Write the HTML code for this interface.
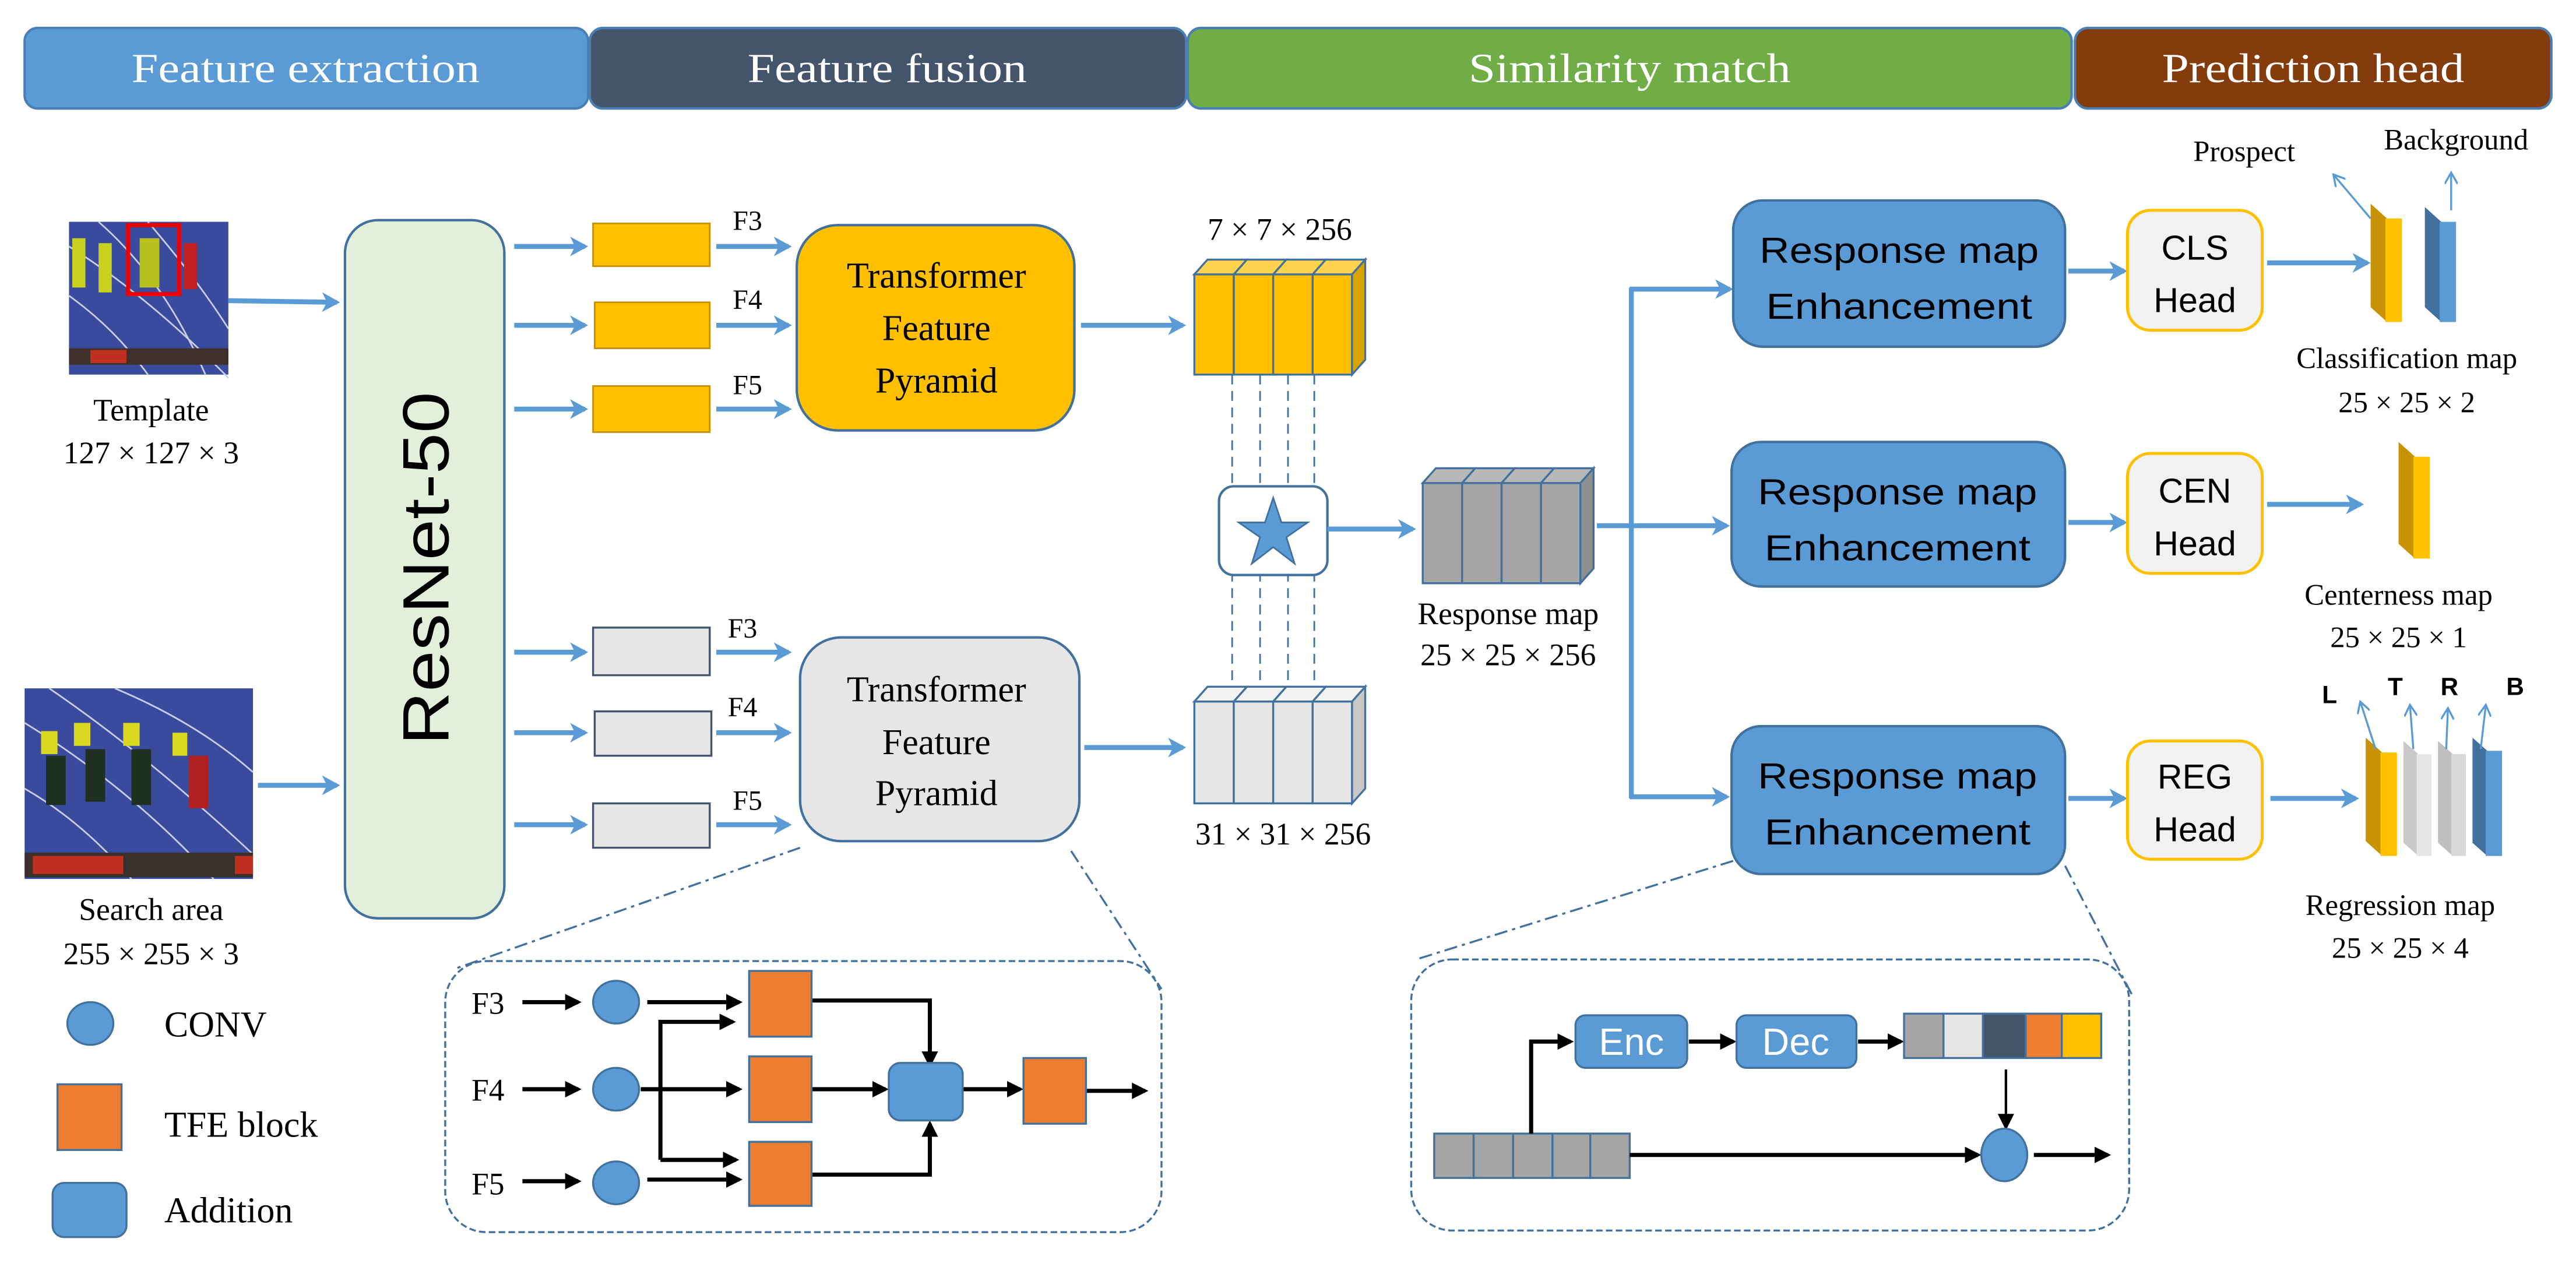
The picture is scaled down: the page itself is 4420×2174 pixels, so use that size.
<!DOCTYPE html>
<html><head><meta charset="utf-8"><style>
html,body{margin:0;padding:0;background:#fff;}
svg{display:block}
.sf{font-family:"Liberation Serif",serif;}
.ss{font-family:"Liberation Sans",sans-serif;}
</style></head><body>
<svg width="4420" height="2174" viewBox="0 0 1568 771.2" xmlns="http://www.w3.org/2000/svg">
<defs>
<marker id="ab" markerWidth="12" markerHeight="12" refX="9" refY="6" orient="auto" markerUnits="userSpaceOnUse"><path d="M0,0 L11,6 L0,12 L3,6 z" fill="#5b9bd5"/></marker>
<marker id="abs" markerWidth="8" markerHeight="8" refX="6" refY="4" orient="auto" markerUnits="userSpaceOnUse"><path d="M0,0 L7,4 L0,8" fill="none" stroke="#5b9bd5" stroke-width="1.2"/></marker>
<marker id="ak" markerWidth="10" markerHeight="10" refX="8" refY="5" orient="auto" markerUnits="userSpaceOnUse"><path d="M0,0 L10,5 L0,10 z" fill="#000"/></marker>
</defs>

<!-- headers -->
<g class="sf" font-size="25" fill="#fff" text-anchor="middle">
<rect x="15" y="17" width="343" height="49" rx="8" fill="#5b9bd5" stroke="#4a7fb5" stroke-width="1.5"/>
<rect x="359" y="17" width="363" height="49" rx="8" fill="#44546a" stroke="#4a7fb5" stroke-width="1.5"/>
<rect x="723" y="17" width="538" height="49" rx="8" fill="#70ad47" stroke="#4a7fb5" stroke-width="1.5"/>
<rect x="1263" y="17" width="290" height="49" rx="8" fill="#843c0c" stroke="#4a7fb5" stroke-width="1.5"/>
<text x="186" y="50" textLength="212" lengthAdjust="spacingAndGlyphs">Feature extraction</text>
<text x="540" y="50" textLength="170" lengthAdjust="spacingAndGlyphs">Feature fusion</text>
<text x="992" y="50" textLength="196" lengthAdjust="spacingAndGlyphs">Similarity match</text>
<text x="1408" y="50" textLength="184" lengthAdjust="spacingAndGlyphs">Prediction head</text>
</g>

<!-- template image -->
<rect x="42" y="135" width="97" height="93" fill="#3a4a9c"/>
<g fill="none" stroke="#c8cde8" stroke-width="1">
<path d="M42,150 Q90,180 139,230"/><path d="M60,135 Q100,170 125,228"/><path d="M90,135 Q120,170 139,200"/><path d="M42,180 Q70,200 90,228"/>
</g>
<rect x="44" y="145" width="8" height="30" fill="#c8d020"/><rect x="60" y="148" width="8" height="30" fill="#c8d020"/>
<rect x="85" y="145" width="12" height="30" fill="#b8c020"/><rect x="112" y="148" width="8" height="28" fill="#c02020"/>
<rect x="42" y="212" width="97" height="10" fill="#40302a"/><rect x="55" y="213" width="22" height="8" fill="#c03020"/>
<rect x="78" y="137" width="31" height="42" fill="none" stroke="#e00" stroke-width="2.5"/>
<g class="sf" font-size="19" text-anchor="middle">
<text x="92" y="256">Template</text>
<text x="92" y="282">127 × 127 × 3</text>
</g>
<line x1="139" y1="183" x2="205" y2="184" stroke="#5b9bd5" stroke-width="3" marker-end="url(#ab)"/>

<!-- search image -->
<rect x="15" y="419" width="139" height="116" fill="#3a4a9c"/>
<g fill="none" stroke="#c8cde8" stroke-width="1">
<path d="M15,440 Q80,480 130,535"/><path d="M30,419 Q90,460 154,520"/><path d="M15,480 Q50,500 80,535"/><path d="M70,419 Q120,440 154,470"/>
</g>
<g fill="#d8d820"><rect x="25" y="445" width="10" height="14"/><rect x="45" y="440" width="10" height="14"/><rect x="75" y="440" width="10" height="14"/><rect x="105" y="446" width="9" height="14"/></g>
<g fill="#203020"><rect x="28" y="460" width="12" height="30"/><rect x="52" y="456" width="12" height="32"/><rect x="80" y="456" width="12" height="34"/><rect x="115" y="460" width="12" height="32" fill="#b02020"/></g>
<rect x="15" y="519" width="139" height="15" fill="#3a302a"/><rect x="20" y="521" width="55" height="11" fill="#c03020"/><rect x="143" y="521" width="11" height="11" fill="#c03020"/>
<g class="sf" font-size="19" text-anchor="middle">
<text x="92" y="560">Search area</text>
<text x="92" y="587">255 × 255 × 3</text>
</g>
<line x1="157" y1="478" x2="205" y2="478" stroke="#5b9bd5" stroke-width="3" marker-end="url(#ab)"/>

<!-- ResNet -->
<rect x="210" y="134" width="97" height="425" rx="20" fill="#e2efda" stroke="#41719c" stroke-width="1.5"/>
<text class="ss" x="0" y="0" font-size="40" text-anchor="middle" transform="translate(273,346) rotate(-90)" textLength="215" lengthAdjust="spacingAndGlyphs">ResNet-50</text>

<!-- top feature rects -->
<g stroke="#5b9bd5" stroke-width="3" marker-end="url(#ab)">
<line x1="313" y1="150" x2="356" y2="150"/><line x1="313" y1="198" x2="356" y2="198"/><line x1="313" y1="249" x2="356" y2="249"/>
<line x1="436" y1="150" x2="480" y2="150"/><line x1="436" y1="198" x2="480" y2="198"/><line x1="436" y1="249" x2="480" y2="249"/>
<line x1="313" y1="397" x2="356" y2="397"/><line x1="313" y1="446" x2="356" y2="446"/><line x1="313" y1="502" x2="356" y2="502"/>
<line x1="436" y1="397" x2="480" y2="397"/><line x1="436" y1="446" x2="480" y2="446"/><line x1="436" y1="502" x2="480" y2="502"/>
<line x1="658" y1="198" x2="720" y2="198"/><line x1="660" y1="455" x2="720" y2="455"/>
</g>
<g fill="#ffc000" stroke="#c89000" stroke-width="1">
<rect x="361" y="136" width="71" height="26"/><rect x="362" y="184" width="70" height="28"/><rect x="361" y="235" width="71" height="28"/>
</g>
<g fill="#e7e6e6" stroke="#44546a" stroke-width="1.2">
<rect x="361" y="382" width="71" height="29"/><rect x="362" y="433" width="71" height="27"/><rect x="361" y="489" width="71" height="27"/>
</g>
<g class="sf" font-size="17">
<text x="446" y="140">F3</text><text x="446" y="188">F4</text><text x="446" y="240">F5</text>
<text x="443" y="388">F3</text><text x="443" y="436">F4</text><text x="446" y="493">F5</text>
</g>

<!-- TFP boxes -->
<rect x="485" y="137" width="169" height="125" rx="25" fill="#ffc000" stroke="#41719c" stroke-width="1.5"/>
<rect x="487" y="388" width="170" height="124" rx="25" fill="#e7e6e6" stroke="#41719c" stroke-width="1.5"/>
<g class="sf" font-size="22" text-anchor="middle">
<text x="570" y="175">Transformer</text><text x="570" y="207">Feature</text><text x="570" y="239">Pyramid</text>
<text x="570" y="427">Transformer</text><text x="570" y="459">Feature</text><text x="570" y="490">Pyramid</text>
</g>

<!-- yellow cube -->
<g stroke="#41719c" stroke-width="1.2" fill="#ffc000">
<rect x="727" y="167" width="24" height="61"/><rect x="751" y="167" width="24" height="61"/><rect x="775" y="167" width="24" height="61"/><rect x="799" y="167" width="24" height="61"/>
<polygon points="727,167 735,158 759,158 751,167" fill="#ffd34d"/><polygon points="751,167 759,158 783,158 775,167" fill="#ffd34d"/><polygon points="775,167 783,158 807,158 799,167" fill="#ffd34d"/><polygon points="799,167 807,158 831,158 823,167" fill="#ffd34d"/>
<polygon points="823,167 831,158 831,219 823,228" fill="#d9a400"/>
</g>
<text class="sf" x="779" y="146" font-size="19" text-anchor="middle">7 × 7 × 256</text>

<!-- dashed lines -->
<g stroke="#41719c" stroke-width="1" stroke-dasharray="6,4">
<line x1="750" y1="228" x2="750" y2="420"/><line x1="767" y1="228" x2="767" y2="420"/><line x1="784" y1="228" x2="784" y2="420"/><line x1="800" y1="228" x2="800" y2="420"/>
</g>
<!-- star box -->
<rect x="742" y="296" width="66" height="54" rx="9" fill="#fff" stroke="#41719c" stroke-width="1.5"/>
<polygon points="775,303 780,318 796,318 783,327 788,343 775,333 762,343 767,327 754,318 770,318" fill="#5b9bd5" stroke="#41719c" stroke-width="1"/>

<!-- bottom gray cube -->
<g stroke="#41719c" stroke-width="1.2" fill="#e7e6e6">
<rect x="727" y="427" width="24" height="62"/><rect x="751" y="427" width="24" height="62"/><rect x="775" y="427" width="24" height="62"/><rect x="799" y="427" width="24" height="62"/>
<polygon points="727,427 735,418 759,418 751,427" fill="#f2f2f2"/><polygon points="751,427 759,418 783,418 775,427" fill="#f2f2f2"/><polygon points="775,427 783,418 807,418 799,427" fill="#f2f2f2"/><polygon points="799,427 807,418 831,418 823,427" fill="#f2f2f2"/>
<polygon points="823,427 831,418 831,480 823,489" fill="#c8c8c8"/>
</g>
<text class="sf" x="781" y="514" font-size="19" text-anchor="middle">31 × 31 × 256</text>

<!-- response cube -->
<line x1="808" y1="322" x2="860" y2="322" stroke="#5b9bd5" stroke-width="3" marker-end="url(#ab)"/>
<g stroke="#41719c" stroke-width="1.2" fill="#a5a5a5">
<rect x="866" y="294" width="24" height="61"/><rect x="890" y="294" width="24" height="61"/><rect x="914" y="294" width="24" height="61"/><rect x="938" y="294" width="24" height="61"/>
<polygon points="866,294 874,285 898,285 890,294" fill="#b8b8b8"/><polygon points="890,294 898,285 922,285 914,294" fill="#b8b8b8"/><polygon points="914,294 922,285 946,285 938,294" fill="#b8b8b8"/><polygon points="938,294 946,285 970,285 962,294" fill="#b8b8b8"/>
<polygon points="962,294 970,285 970,346 962,355" fill="#8f8f8f"/>
</g>
<g class="sf" font-size="19" text-anchor="middle"><text x="918" y="380">Response map</text><text x="918" y="405">25 × 25 × 256</text></g>

<!-- branching -->
<g stroke="#5b9bd5" stroke-width="3" fill="none">
<polyline points="972,320 993,320"/><line x1="993" y1="175" x2="993" y2="486"/>
</g>
<g stroke="#5b9bd5" stroke-width="3" marker-end="url(#ab)">
<line x1="992" y1="176" x2="1053" y2="176"/><line x1="992" y1="320" x2="1051" y2="320"/><line x1="992" y1="485" x2="1051" y2="485"/>
<line x1="1259" y1="165" x2="1293" y2="165"/><line x1="1259" y1="318" x2="1293" y2="318"/><line x1="1259" y1="486" x2="1293" y2="486"/>
<line x1="1380" y1="160" x2="1441" y2="160"/><line x1="1380" y1="307" x2="1437" y2="307"/><line x1="1382" y1="486" x2="1434" y2="486"/>
</g>

<!-- RME boxes -->
<g fill="#5b9bd5" stroke="#41719c" stroke-width="1.5">
<rect x="1055" y="122" width="202" height="89" rx="18"/><rect x="1054" y="269" width="203" height="88" rx="18"/><rect x="1054" y="442" width="203" height="90" rx="18"/>
</g>
<g class="ss" font-size="22" text-anchor="middle">
<text x="1156" y="160" textLength="170" lengthAdjust="spacingAndGlyphs">Response map</text><text x="1156" y="194" textLength="162" lengthAdjust="spacingAndGlyphs">Enhancement</text>
<text x="1155" y="307" textLength="170" lengthAdjust="spacingAndGlyphs">Response map</text><text x="1155" y="341" textLength="162" lengthAdjust="spacingAndGlyphs">Enhancement</text>
<text x="1155" y="480" textLength="170" lengthAdjust="spacingAndGlyphs">Response map</text><text x="1155" y="514" textLength="162" lengthAdjust="spacingAndGlyphs">Enhancement</text>
</g>

<!-- heads -->
<g fill="#f2f2f2" stroke="#ffc000" stroke-width="1.8">
<rect x="1295" y="128" width="82" height="73" rx="14"/><rect x="1295" y="276" width="82" height="73" rx="14"/><rect x="1295" y="451" width="82" height="72" rx="14"/>
</g>
<g class="ss" font-size="21" text-anchor="middle">
<text x="1336" y="158">CLS</text><text x="1336" y="190">Head</text>
<text x="1336" y="306">CEN</text><text x="1336" y="338">Head</text>
<text x="1336" y="480">REG</text><text x="1336" y="512">Head</text>
</g>

<!-- cls maps -->
<polygon points="1443,124 1453,133 1453,196 1443,187" fill="#c89200"/><rect x="1452" y="133" width="10" height="63" fill="#ffc000"/>
<polygon points="1476,126 1486,135 1486,196 1476,187" fill="#41719c"/><rect x="1485" y="135" width="10" height="61" fill="#5b9bd5"/>
<line x1="1443" y1="133" x2="1421" y2="107" stroke="#5b9bd5" stroke-width="1.2" marker-end="url(#abs)"/>
<line x1="1492" y1="128" x2="1492" y2="106" stroke="#5b9bd5" stroke-width="1.2" marker-end="url(#abs)"/>
<g class="sf" font-size="18" text-anchor="middle">
<text x="1366" y="98">Prospect</text><text x="1495" y="91">Background</text>
<text x="1465" y="224">Classification map</text><text x="1465" y="251">25 × 25 × 2</text>
</g>
<!-- cen map -->
<polygon points="1460,269 1470,278 1470,340 1460,331" fill="#c89200"/><rect x="1469" y="278" width="10" height="62" fill="#ffc000"/>
<g class="sf" font-size="18" text-anchor="middle"><text x="1460" y="368">Centerness map</text><text x="1460" y="394">25 × 25 × 1</text></g>
<!-- reg maps -->
<polygon points="1440,449 1450,458 1450,521 1440,512" fill="#c89200"/><rect x="1449" y="458" width="10" height="63" fill="#ffc000"/>
<polygon points="1463,451 1472,459 1472,521 1463,513" fill="#c8c8c8"/><rect x="1471" y="459" width="9" height="62" fill="#e7e6e6"/>
<polygon points="1484,451 1493,459 1493,521 1484,513" fill="#bfbfbf"/><rect x="1492" y="459" width="9" height="62" fill="#d9d9d9"/>
<polygon points="1505,449 1514,457 1514,521 1505,513" fill="#41719c"/><rect x="1513" y="457" width="10" height="64" fill="#5b9bd5"/>
<g stroke="#5b9bd5" stroke-width="1.2" marker-end="url(#abs)">
<line x1="1446" y1="456" x2="1437" y2="428"/><line x1="1469" y1="456" x2="1467" y2="430"/><line x1="1489" y1="456" x2="1490" y2="432"/><line x1="1510" y1="456" x2="1513" y2="430"/>
</g>
<g class="ss" font-size="15" font-weight="bold" text-anchor="middle">
<text x="1418" y="428">L</text><text x="1458" y="423">T</text><text x="1491" y="423">R</text><text x="1531" y="423">B</text>
</g>
<g class="sf" font-size="18" text-anchor="middle"><text x="1461" y="557">Regression map</text><text x="1461" y="583">25 × 25 × 4</text></g>

<!-- legend -->
<ellipse cx="55" cy="623" rx="14" ry="13" fill="#5b9bd5" stroke="#41719c" stroke-width="1.2"/>
<rect x="35" y="660" width="39" height="40" fill="#ed7d31" stroke="#41719c" stroke-width="1.2"/>
<rect x="32" y="720" width="45" height="33" rx="7" fill="#5b9bd5" stroke="#41719c" stroke-width="1.2"/>
<g class="sf" font-size="22"><text x="100" y="631">CONV</text><text x="100" y="692">TFE block</text><text x="100" y="744">Addition</text></g>

<!-- inset 1 -->
<g stroke="#41719c" stroke-width="1.2" fill="none">
<rect x="271" y="585" width="436" height="165" rx="25" stroke-dasharray="4,2"/>
<line x1="487" y1="516" x2="276" y2="590" stroke-dasharray="8,3,2,3"/>
<line x1="652" y1="518" x2="707" y2="602" stroke-dasharray="8,3,2,3"/>
<rect x="859" y="584" width="437" height="165" rx="25" stroke-dasharray="4,2"/>
<line x1="1055" y1="524" x2="862" y2="584" stroke-dasharray="8,3,2,3"/>
<line x1="1257" y1="527" x2="1298" y2="606" stroke-dasharray="8,3,2,3"/>
</g>
<g class="sf" font-size="19"><text x="287" y="617">F3</text><text x="287" y="670">F4</text><text x="287" y="727">F5</text></g>
<g stroke="#000" stroke-width="2.5" fill="none" marker-end="url(#ak)">
<line x1="318" y1="610" x2="352" y2="610"/><line x1="318" y1="663" x2="352" y2="663"/><line x1="318" y1="719" x2="352" y2="719"/>
<line x1="394" y1="610" x2="450" y2="610"/><line x1="390" y1="663" x2="450" y2="663"/><line x1="394" y1="718" x2="450" y2="718"/>
<polyline points="402,706 402,622 446,622"/><polyline points="402,706 448,706"/>
<polyline points="494,609 566,609 566,648"/><polyline points="494,715 566,715 566,684"/>
<line x1="494" y1="663" x2="539" y2="663"/><line x1="586" y1="663" x2="621" y2="663"/><line x1="661" y1="664" x2="697" y2="664"/>
</g>
<g fill="#5b9bd5" stroke="#41719c" stroke-width="1.2">
<ellipse cx="375" cy="610" rx="14" ry="13"/><ellipse cx="375" cy="663" rx="14" ry="13"/><ellipse cx="375" cy="720" rx="14" ry="13"/>
<rect x="541" y="647" width="45" height="35" rx="7"/>
</g>
<g fill="#ed7d31" stroke="#41719c" stroke-width="1.2">
<rect x="456" y="591" width="38" height="40"/><rect x="456" y="643" width="38" height="40"/><rect x="456" y="695" width="38" height="39"/><rect x="623" y="644" width="38" height="40"/>
</g>

<!-- inset 2 -->
<g stroke="#41719c" stroke-width="1.2" fill="#a5a5a5">
<rect x="873" y="690" width="24" height="27"/><rect x="897" y="690" width="24" height="27"/><rect x="921" y="690" width="24" height="27"/><rect x="945" y="690" width="23" height="27"/><rect x="968" y="690" width="24" height="27"/>
</g>
<g stroke="#000" stroke-width="2.5" fill="none" marker-end="url(#ak)">
<polyline points="932,690 932,634 956,634"/><line x1="1028" y1="634" x2="1055" y2="634"/><line x1="1131" y1="634" x2="1157" y2="634"/>
<line x1="992" y1="703" x2="1204" y2="703"/><line x1="1238" y1="703" x2="1283" y2="703"/>
</g>
<line x1="1221" y1="651" x2="1221" y2="686" stroke="#000" stroke-width="1.5" marker-end="url(#ak)"/>
<rect x="959" y="618" width="68" height="32" rx="6" fill="#5b9bd5" stroke="#41719c" stroke-width="1.2"/>
<rect x="1057" y="618" width="73" height="32" rx="6" fill="#5b9bd5" stroke="#41719c" stroke-width="1.2"/>
<g class="ss" font-size="23" fill="#fff" text-anchor="middle"><text x="993" y="642">Enc</text><text x="1093" y="642">Dec</text></g>
<g stroke="#41719c" stroke-width="1.2">
<rect x="1159" y="617" width="24" height="27" fill="#a5a5a5"/><rect x="1183" y="617" width="24" height="27" fill="#e7e6e6"/><rect x="1207" y="617" width="26" height="27" fill="#44546a"/><rect x="1233" y="617" width="22" height="27" fill="#ed7d31"/><rect x="1255" y="617" width="24" height="27" fill="#ffc000"/>
</g>
<ellipse cx="1220" cy="703" rx="14" ry="16" fill="#5b9bd5" stroke="#41719c" stroke-width="1.2"/>
</svg>
</body></html>
